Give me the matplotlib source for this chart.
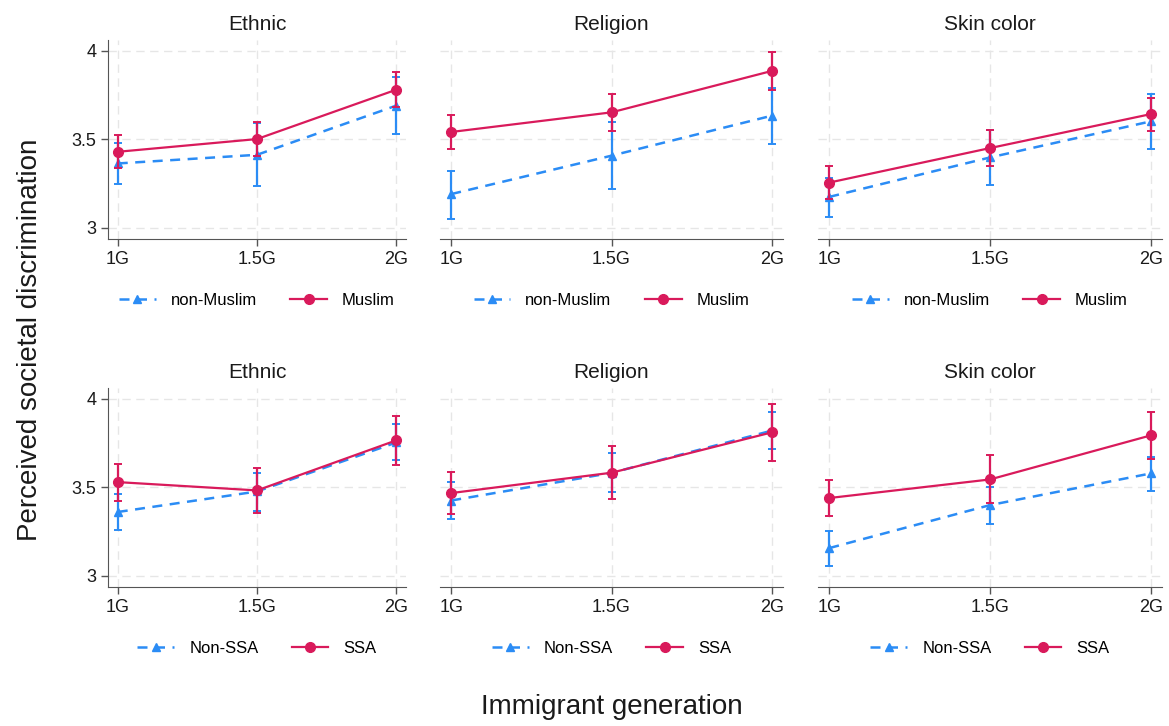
import matplotlib.pyplot as plt
import numpy as np

generations = ['1G', '1.5G', '2G']
panel_titles = ['Ethnic', 'Religion', 'Skin color']

# top row: non-Muslim vs Muslim (mean, lower CI, upper CI) for each panel
nonmuslim_mean = [[3.362, 3.411, 3.689], [3.189, 3.406, 3.632], [3.173, 3.396, 3.600]]
nonmuslim_lo = [[3.245, 3.234, 3.530], [3.047, 3.220, 3.473], [3.060, 3.241, 3.443]]
nonmuslim_hi = [[3.475, 3.588, 3.849], [3.322, 3.594, 3.790], [3.281, 3.551, 3.755]]
muslim_mean = [[3.428, 3.500, 3.779], [3.540, 3.651, 3.885], [3.254, 3.449, 3.641]]
muslim_lo = [[3.336, 3.404, 3.680], [3.441, 3.547, 3.779], [3.160, 3.347, 3.547]]
muslim_hi = [[3.523, 3.596, 3.877], [3.636, 3.752, 3.994], [3.349, 3.553, 3.732]]

# bottom row: non-SSA vs SSA
nonssa_mean = [[3.359, 3.475, 3.752], [3.424, 3.580, 3.819], [3.155, 3.398, 3.577]]
nonssa_lo = [[3.256, 3.362, 3.653], [3.321, 3.473, 3.715], [3.055, 3.291, 3.479]]
nonssa_hi = [[3.462, 3.581, 3.859], [3.530, 3.692, 3.926], [3.253, 3.503, 3.670]]
ssa_mean = [[3.528, 3.481, 3.764], [3.466, 3.581, 3.809], [3.438, 3.543, 3.792]]
ssa_lo = [[3.424, 3.356, 3.625], [3.347, 3.432, 3.649], [3.336, 3.410, 3.660]]
ssa_hi = [[3.630, 3.605, 3.904], [3.583, 3.732, 3.971], [3.540, 3.679, 3.922]]

rows = [
    (('non-Muslim', nonmuslim_mean, nonmuslim_lo, nonmuslim_hi),
     ('Muslim', muslim_mean, muslim_lo, muslim_hi)),
    (('Non-SSA', nonssa_mean, nonssa_lo, nonssa_hi),
     ('SSA', ssa_mean, ssa_lo, ssa_hi)),
]

blue = '#2b8cf5'
red = '#d91a5b'
grid_c = '#e6e6e6'
axis_c = '#555555'

W, H = 1169, 726
fig = plt.figure(figsize=(W / 100, H / 100), dpi=100)
plt.rcParams['font.family'] = 'Liberation Sans'

# axes boxes in pixels: (left, right) per column, (top, bottom) per row
cols_px = [(108, 406), (440, 783), (818, 1162)]
rows_px = [(40, 239), (388, 587)]

x = np.arange(len(generations))

for r, (grp_a, grp_b) in enumerate(rows):
    top, bot = rows_px[r]
    for c, (left, right) in enumerate(cols_px):
        ax = fig.add_axes([left / W, 1 - bot / H, (right - left) / W, (bot - top) / H])
        ax.set_xlim(-0.07, 2.07)
        ax.set_ylim(2.935, 4.06)
        ax.set_yticks([3, 3.5, 4])
        ax.set_yticklabels(['3', '3.5', '4'])
        ax.set_xticks(x)
        ax.set_xticklabels(generations)
        ax.grid(True, color=grid_c, linestyle=(0, (6, 4)), linewidth=1)
        ax.set_axisbelow(True)
        for s in ['top', 'right']:
            ax.spines[s].set_visible(False)
        ax.spines['bottom'].set_color(axis_c)
        ax.spines['left'].set_color(axis_c)
        ax.tick_params(axis='both', colors=axis_c, labelcolor='#1a1a1a',
                       labelsize=13, length=5, width=1)
        if c > 0:
            ax.spines['left'].set_visible(False)
            ax.tick_params(axis='y', left=False, labelleft=False)

        name, mean, lo, hi = grp_a
        m = np.array(mean[c])
        err = [m - np.array(lo[c]), np.array(hi[c]) - m]
        ax.errorbar(x, m, yerr=err, color=blue, ecolor=blue, linestyle=(0, (4, 3)),
                    linewidth=1.8, marker='^', markersize=6, capsize=3,
                    elinewidth=1.6, capthick=1.4, label=name, zorder=3)
        name, mean, lo, hi = grp_b
        m = np.array(mean[c])
        err = [m - np.array(lo[c]), np.array(hi[c]) - m]
        ax.errorbar(x, m, yerr=err, color=red, ecolor=red, linestyle='-',
                    linewidth=1.6, marker='o', markersize=7, capsize=3,
                    elinewidth=1.6, capthick=1.4, label=name, zorder=4)

        ax.set_title(panel_titles[c], fontsize=15, pad=7, color='#1a1a1a')
        handles, labels = ax.get_legend_handles_labels()
        handles = [h[0] for h in handles]
        ax.legend(handles, labels, loc='center', bbox_to_anchor=(0.5, -0.31),
                  ncol=2, frameon=False, fontsize=12, handlelength=2.2,
                  columnspacing=2.0, handletextpad=0.9)

fig.text(0.026, 0.532, 'Perceived societal discrimination', rotation=90,
         ha='center', va='center', fontsize=20, color='#1a1a1a')
fig.text(0.523, 0.026, 'Immigrant generation', ha='center', va='center',
         fontsize=20, color='#1a1a1a')

fig.savefig('out.png', dpi=100, facecolor='white')
